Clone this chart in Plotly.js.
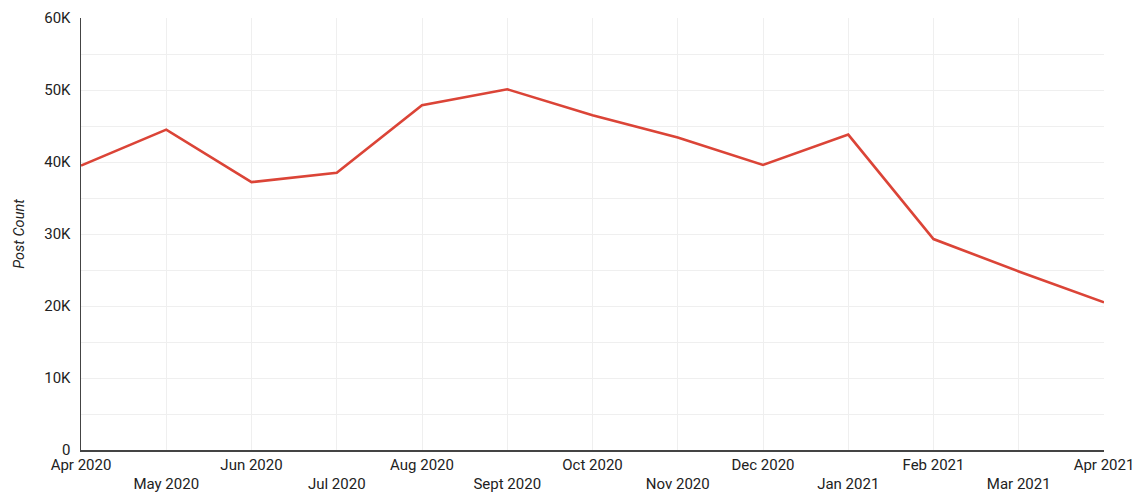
<!DOCTYPE html>
<html>
<head>
<meta charset="utf-8">
<script src="https://cdn.plot.ly/plotly-3.0.1.min.js"></script>
<style>
  html, body { margin: 0; padding: 0; background: #ffffff; }
  #chart { width: 1136px; height: 493px; }
</style>
</head>
<body>
<div id="chart"></div>
<script>
const months = ["Apr 2020", "May 2020", "Jun 2020", "Jul 2020", "Aug 2020", "Sept 2020", "Oct 2020", "Nov 2020", "Dec 2020", "Jan 2021", "Feb 2021", "Mar 2021", "Apr 2021"];
const postCount = [39500, 44500, 37200, 38500, 47900, 50100, 46500, 43400, 39600, 43800, 29300, 24800, 20500];
const yTickVals = [0, 5000, 10000, 15000, 20000, 25000, 30000, 35000, 40000, 45000, 50000, 55000, 60000];
const yTickText = ["0", "", "10K", "", "20K", "", "30K", "", "40K", "", "50K", "", "60K"];
const xTickText = months.map((m, i) => (i % 2 === 1 ? "<br>" + m : m));

const trace = {
  x: months,
  y: postCount,
  type: "scatter",
  mode: "lines",
  line: { color: "#db4437", width: 2.6 },
  hoverinfo: "x+y"
};

const layout = {
  width: 1136,
  height: 493,
  margin: { l: 81, r: 32, t: 18, b: 43 },
  paper_bgcolor: "#ffffff",
  plot_bgcolor: "#ffffff",
  font: { family: "Roboto, 'Open Sans', sans-serif", size: 15, color: "#222222" },
  showlegend: false,
  xaxis: {
    type: "category",
    range: [0, months.length - 1],
    tickvals: months,
    ticktext: xTickText,
    tickangle: 0,
    showgrid: true,
    gridcolor: "#efefef",
    gridwidth: 1,
    showline: true,
    linecolor: "#444444",
    linewidth: 1.5,
    ticks: "",
    ticklen: 0,
    ticklabelstandoff: 0,
    zeroline: false,
    tickfont: { size: 15, color: "#222222" }
  },
  yaxis: {
    range: [0, 60000],
    tickvals: yTickVals,
    ticktext: yTickText,
    showgrid: true,
    gridcolor: "#efefef",
    gridwidth: 1,
    showline: true,
    linecolor: "#444444",
    linewidth: 1.5,
    zeroline: false,
    ticks: "",
    ticklabelstandoff: 6,
    tickfont: { size: 15, color: "#222222" },
    title: { text: "<i>Post Count</i>", font: { size: 14.5, color: "#222222" }, standoff: 16 }
  }
};

Plotly.newPlot("chart", [trace], layout, { displayModeBar: false, staticPlot: true });
</script>
</body>
</html>
